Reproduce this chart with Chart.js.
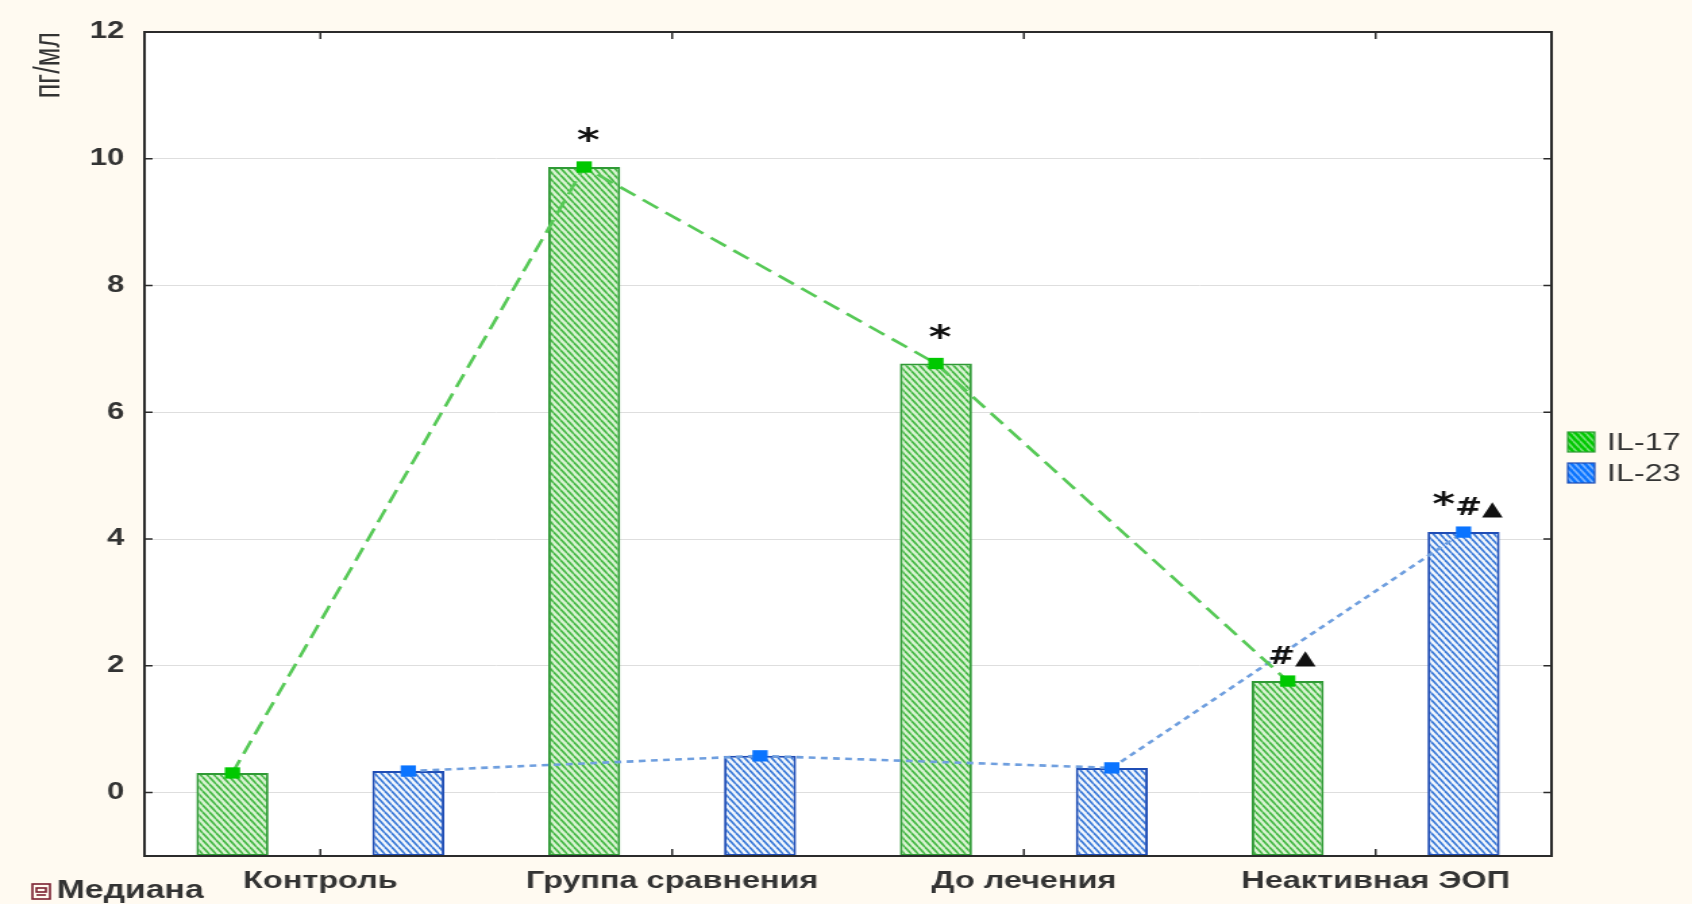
<!DOCTYPE html>
<html>
<head>
<meta charset="utf-8">
<script src="https://cdn.jsdelivr.net/npm/chart.js@4.4.1/dist/chart.umd.min.js"></script>
<style>
  html, body { margin: 0; padding: 0; background: #fffaf1; overflow: hidden; }
  #wrap { position: absolute; left: 0; top: 0; width: 1253px; height: 904px; transform: scaleX(1.3503); transform-origin: 0 0; }
</style>
</head>
<body>
<div id="wrap"><canvas id="chart" width="1253" height="904"></canvas></div>
<script>
const categories = ['Контроль', 'Группа сравнения', 'До лечения', 'Неактивная ЭОП'];
const il17 = [0.31, 9.87, 6.77, 1.76];
const il23 = [0.34, 0.58, 0.39, 4.11];
const yTicks = [0, 2, 4, 6, 8, 10, 12];
const yMin = -1;
const yMax = 12;
const seriesNames = ['IL-17', 'IL-23'];
// [series, category, text]
const marks = [[0, 1, '*'], [0, 2, '*'], [0, 3, '#▲'], [1, 3, '*#▲']];
const medianLabel = 'Медиана';
const yTitle = 'пг/мл';

const GREEN = { bg: '#d9f3d2', stripe: '#45b845', border: '#2f9a35', line: '#56c956', point: '#00c800' };
const BLUE = { bg: '#f2f7fd', stripe: '#3b7ad8', border: '#1f4db5', line: '#6f9fdf', point: '#0a74ff' };

function hatch(bg, fg) {
  const w = 5, h = 7;
  const c = document.createElement('canvas');
  c.width = w;
  c.height = h;
  const g = c.getContext('2d');
  g.fillStyle = bg;
  g.fillRect(0, 0, w, h);
  g.strokeStyle = fg;
  g.lineWidth = 1.7;
  [-w, 0, w].forEach((dx) => {
    g.beginPath();
    g.moveTo(dx, 0);
    g.lineTo(dx + w, h);
    g.stroke();
  });
  return g.createPattern(c, 'repeat');
}

// two slots per category: bars and line points of each series sit in their own slot
const slots = categories.flatMap((c) => [c + ' ' + seriesNames[0], c + ' ' + seriesNames[1]]);
const slot17 = il17.flatMap((v) => [v, null]);
const slot23 = il23.flatMap((v) => [null, v]);

function markFont(ch) {
  if (ch === '*') return 'bold 32px "DejaVu Sans"';
  if (ch === '▲') return '20px "DejaVu Sans"';
  return 'bold 24px "DejaVu Sans"';
}

const frame = {
  id: 'frame',
  beforeDraw(chart) {
    const { ctx, chartArea: a } = chart;
    ctx.save();
    ctx.fillStyle = '#ffffff';
    ctx.fillRect(a.left, a.top, a.right - a.left, a.bottom - a.top);
    ctx.restore();
  },
  afterDatasetsDraw(chart) {
    const { ctx } = chart;
    ctx.save();
    ctx.fillStyle = '#111';
    ctx.textBaseline = 'alphabetic';
    ctx.textAlign = 'left';
    marks.forEach(([ds, idx, text]) => {
      const el = chart.getDatasetMeta(ds).data[idx * 2 + ds];
      const chars = Array.from(text);
      const widths = chars.map((ch) => { ctx.font = markFont(ch); return ctx.measureText(ch).width; });
      const total = widths.reduce((s, w) => s + w, 0);
      let x = el.x - total / 2 + 3;
      const y = el.y - 17;
      chars.forEach((ch, i) => {
        ctx.font = markFont(ch);
        ctx.fillText(ch, x, ch === '*' && chars.length > 1 ? y - 1 : y);
        x += widths[i];
      });
    });
    ctx.restore();
  },
  afterDraw(chart) {
    const { ctx, chartArea: a, scales } = chart;
    ctx.save();
    ctx.strokeStyle = '#2b2b2b';
    ctx.lineWidth = 2;
    ctx.strokeRect(a.left, a.top, a.right - a.left, a.bottom - a.top);
    ctx.lineWidth = 1.5;
    ctx.beginPath();
    yTicks.forEach((v) => {
      const y = scales.y.getPixelForValue(v);
      ctx.moveTo(a.left, y); ctx.lineTo(a.left + 6, y);
      ctx.moveTo(a.right, y); ctx.lineTo(a.right - 6, y);
    });
    categories.forEach((c, i) => {
      const x = scales.x.getPixelForValue(i);
      ctx.moveTo(x, a.bottom); ctx.lineTo(x, a.bottom - 7);
      ctx.moveTo(x, a.top); ctx.lineTo(x, a.top + 7);
    });
    ctx.stroke();

    // legend
    [GREEN, BLUE].forEach((col, i) => {
      const bx = 1161, by = 432 + i * 31;
      ctx.fillStyle = col.point;
      ctx.fillRect(bx, by, 20, 20);
      ctx.fillStyle = hatch('rgba(255,255,255,0)', 'rgba(255,255,255,0.45)');
      ctx.fillRect(bx, by, 20, 20);
      ctx.strokeStyle = col.border;
      ctx.lineWidth = 1.2;
      ctx.strokeRect(bx, by, 20, 20);
      ctx.fillStyle = '#333';
      ctx.font = '24px Arial, "Liberation Sans"';
      ctx.textBaseline = 'middle';
      ctx.textAlign = 'left';
      ctx.fillText(seriesNames[i], 1190, by + 11);
    });

    // median note
    ctx.strokeStyle = '#7b2030';
    ctx.lineWidth = 1.6;
    ctx.strokeRect(24, 884, 13, 15);
    ctx.strokeRect(27, 888, 7, 4);
    ctx.beginPath();
    ctx.moveTo(27, 895); ctx.lineTo(34, 895);
    ctx.stroke();
    ctx.fillStyle = '#333';
    ctx.font = 'bold 25px Arial, "Liberation Sans"';
    ctx.textBaseline = 'middle';
    ctx.textAlign = 'left';
    ctx.fillText(medianLabel, 42, 891);
    ctx.restore();
  }
};

const barBase = { type: 'bar', base: yMin, order: 2, xAxisID: 'x2', grouped: false, borderWidth: 2, borderSkipped: false, categoryPercentage: 1, barPercentage: 0.41 };
const lineBase = { type: 'line', xAxisID: 'x2', order: 1, spanGaps: true, borderWidth: 2.6, pointStyle: 'rect', pointRadius: 8, pointBorderWidth: 0 };

new Chart(document.getElementById('chart'), {
  data: {
    labels: categories,
    datasets: [
      { ...barBase, label: seriesNames[0], data: slot17, backgroundColor: hatch(GREEN.bg, GREEN.stripe), borderColor: GREEN.border },
      { ...barBase, label: seriesNames[1], data: slot23, backgroundColor: hatch(BLUE.bg, BLUE.stripe), borderColor: BLUE.border },
      { ...lineBase, label: seriesNames[0], data: slot17, borderColor: GREEN.line, borderDash: [14, 7], pointBackgroundColor: GREEN.point },
      { ...lineBase, label: seriesNames[1], data: slot23, borderColor: BLUE.line, borderDash: [5, 4], pointBackgroundColor: BLUE.point }
    ]
  },
  options: {
    responsive: false,
    animation: false,
    layout: { padding: { left: 0, right: 104, top: 32, bottom: 0 } },
    plugins: { legend: { display: false }, tooltip: { enabled: false } },
    scales: {
      x: {
        type: 'category',
        offset: true,
        grid: { display: false, drawTicks: false },
        border: { display: false },
        ticks: { color: '#333', font: { family: 'Arial', size: 24, weight: 'bold' }, padding: 11, autoSkip: false, maxRotation: 0 },
        afterFit: (scale) => { scale.height = 48; }
      },
      x2: {
        type: 'category',
        labels: slots,
        offset: true,
        display: false
      },
      y: {
        min: yMin,
        max: yMax,
        afterBuildTicks: (scale) => { scale.ticks = yTicks.map((v) => ({ value: v })); },
        grid: { color: '#dedede', lineWidth: 1, drawTicks: false },
        border: { display: false },
        ticks: { color: '#333', font: { family: 'Arial', size: 23, weight: 'bold' }, padding: 15 },
        title: { display: true, text: yTitle, align: 'end', color: '#333', font: { family: 'Arial', size: 27 }, padding: { top: 20, bottom: 0 } },
        afterFit: (scale) => { scale.width = 107; }
      }
    }
  },
  plugins: [frame]
});
</script>
</body>
</html>
